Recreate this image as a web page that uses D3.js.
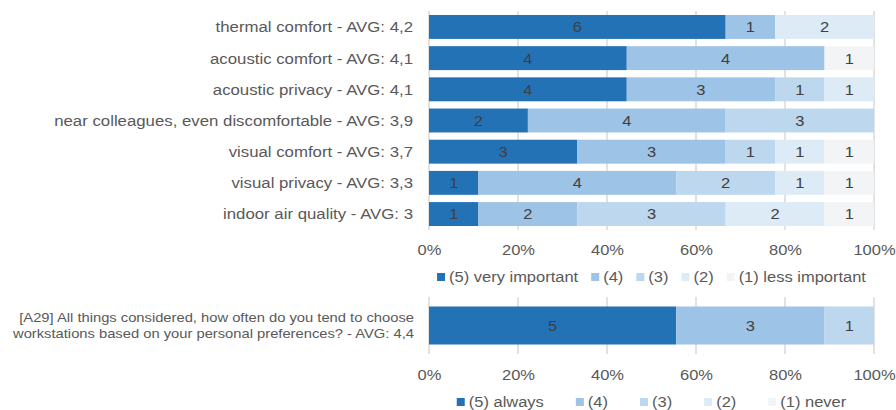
<!DOCTYPE html>
<html>
<head>
<meta charset="utf-8">
<script src="https://cdn.jsdelivr.net/npm/d3@7"></script>
<style>
  html, body { margin: 0; padding: 0; background: #fff; }
  svg { display: block; font-family: "Liberation Sans", Arial, sans-serif; }
</style>
</head>
<body>
<svg id="chart" width="896" height="410"></svg>
<script>
// Importance of workplace factors (counts per answer level, 9 respondents)
const categories = [
  "thermal comfort - AVG: 4,2",
  "acoustic comfort - AVG: 4,1",
  "acoustic privacy - AVG: 4,1",
  "near colleagues, even discomfortable - AVG: 3,9",
  "visual comfort - AVG: 3,7",
  "visual privacy - AVG: 3,3",
  "indoor air quality - AVG: 3"
];
const level5 = [6, 4, 4, 2, 3, 1, 1];
const level4 = [1, 4, 3, 4, 3, 4, 2];
const level3 = [0, 0, 1, 3, 1, 2, 3];
const level2 = [2, 0, 1, 0, 1, 1, 2];
const level1 = [0, 1, 0, 0, 1, 1, 1];
const importanceLegend = ["(5) very important", "(4)", "(3)", "(2)", "(1) less important"];

// Workstation choice question
const questionLines = [
  "[A29] All things considered, how often do you tend to choose",
  "workstations based on your personal preferences? - AVG: 4,4"
];
const freq5 = [5];
const freq4 = [3];
const freq3 = [1];
const freq2 = [0];
const freq1 = [0];
const frequencyLegend = ["(5) always", "(4)", "(3)", "(2)", "(1) never"];

const tickValues = [0, 0.2, 0.4, 0.6, 0.8, 1];

const colors = ["#2372b6", "#9dc3e6", "#bdd7ee", "#ddebf7", "#f3f4f6"];
const textColor = "#595959";
const valueColor = "#404040";
const gridColor = "#d9d9d9";
const stretch = 1.1;        // horizontal text stretch
const labelStretch = 1.12;  // stretch for category labels
const fontSize = 15;
const questionFontSize = 13.4;

const svg = d3.select("#chart");
const x = d3.scaleLinear().domain([0, 1]).range([429, 874]);
const labelRight = 413;

function stackRows(names, series) {
  return names.map((name, i) => {
    const counts = series.map(s => s[i]);
    const total = d3.sum(counts);
    let acc = 0;
    const segs = counts.map((c, k) => {
      const seg = { level: k, count: c, x0: acc / total, x1: (acc + c) / total };
      acc += c;
      return seg;
    });
    return { name, segs };
  });
}

function drawPanel(opts) {
  const { rows, yRange, padInner, padOuter, tickY, legendY, legendItems, legendGap, labels } = opts;
  const g = svg.append("g");
  const y = d3.scaleBand()
    .domain(rows.map(r => r.name))
    .range(yRange)
    .paddingInner(padInner)
    .paddingOuter(padOuter);

  // gridlines (including the 0% axis line)
  g.append("g").selectAll("line")
    .data(tickValues)
    .join("line")
    .attr("x1", d => x(d)).attr("x2", d => x(d))
    .attr("y1", yRange[0]).attr("y2", yRange[1])
    .attr("stroke", gridColor)
    .attr("stroke-width", 1.5);

  // stacked bars
  const row = g.append("g").selectAll("g")
    .data(rows)
    .join("g")
    .attr("transform", d => `translate(0,${y(d.name)})`);

  row.selectAll("rect")
    .data(d => d.segs.filter(s => s.count > 0))
    .join("rect")
    .attr("x", s => x(s.x0))
    .attr("width", s => x(s.x1) - x(s.x0))
    .attr("height", y.bandwidth())
    .attr("fill", s => colors[s.level]);

  row.selectAll("text")
    .data(d => d.segs.filter(s => s.count > 0))
    .join("text")
    .attr("transform", s => `translate(${(x(s.x0) + x(s.x1)) / 2},${y.bandwidth() / 2}) scale(${stretch},1)`)
    .attr("text-anchor", "middle")
    .attr("dy", "0.36em")
    .attr("font-size", fontSize)
    .attr("fill", valueColor)
    .text(s => s.count);

  // category labels
  if (labels) {
    labels(g, y);
  } else {
    g.append("g").selectAll("text")
      .data(rows)
      .join("text")
      .attr("transform", d => `translate(${labelRight},${y(d.name) + y.bandwidth() / 2}) scale(${labelStretch},1)`)
      .attr("text-anchor", "end")
      .attr("dy", "0.36em")
      .attr("font-size", fontSize)
      .attr("fill", textColor)
      .text(d => d.name);
  }

  // percentage axis
  const axis = g.append("g")
    .attr("transform", `translate(0,${tickY})`)
    .call(d3.axisBottom(x).tickValues(tickValues).tickFormat(d3.format(".0%")).tickSize(0).tickPadding(0));
  axis.select(".domain").remove();
  axis.selectAll("text")
    .attr("y", 0)
    .attr("dy", "0.36em")
    .attr("font-size", fontSize)
    .attr("font-family", "Liberation Sans, Arial, sans-serif")
    .attr("fill", textColor)
    .attr("transform", `scale(${stretch},1)`);

  // legend, centered under the plot
  const leg = g.append("g");
  const items = leg.selectAll("g")
    .data(legendItems)
    .join("g");
  items.append("rect")
    .attr("width", 8).attr("height", 8)
    .attr("y", -4)
    .attr("fill", (d, i) => colors[i]);
  items.append("text")
    .attr("transform", `translate(12,0) scale(${stretch},1)`)
    .attr("dy", "0.36em")
    .attr("font-size", fontSize)
    .attr("fill", textColor)
    .text(d => d);
  let offset = 0;
  const widths = [];
  items.each(function () {
    const w = 12 + this.querySelector("text").getComputedTextLength() * stretch;
    widths.push(w);
  });
  const total = d3.sum(widths) + legendGap * (widths.length - 1);
  const start = (x(0) + x(1)) / 2 - total / 2;
  items.attr("transform", (d, i) => {
    const pos = start + offset;
    offset += widths[i] + legendGap;
    return `translate(${pos},${legendY})`;
  });
}

const importanceRows = stackRows(categories, [level5, level4, level3, level2, level1]);
drawPanel({
  rows: importanceRows,
  yRange: [11, 230],
  padInner: 0.233,
  padOuter: 0.128,
  tickY: 250,
  legendY: 277,
  legendItems: importanceLegend,
  legendGap: 13
});

const questionRows = stackRows([questionLines.join(" ")], [freq5, freq4, freq3, freq2, freq1]);
drawPanel({
  rows: questionRows,
  yRange: [297, 354],
  padInner: 0,
  padOuter: 0.25,
  tickY: 375,
  legendY: 402,
  legendItems: frequencyLegend,
  legendGap: 32,
  labels: (g, y) => {
    const cy = y(y.domain()[0]) + y.bandwidth() / 2;
    g.append("g").selectAll("text")
      .data(questionLines)
      .join("text")
      .attr("transform", (d, i) => `translate(${labelRight + 1},${cy + (i - 0.5) * 16}) scale(${stretch},1)`)
      .attr("text-anchor", "end")
      .attr("dy", "0.36em")
      .attr("font-size", questionFontSize)
      .attr("fill", textColor)
      .text(d => d);
  }
});
</script>
</body>
</html>
